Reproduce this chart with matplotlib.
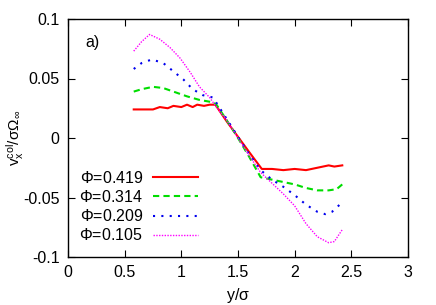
import numpy as np
import matplotlib
matplotlib.use("Agg")
import matplotlib.pyplot as plt

plt.rcParams["font.family"] = ["Liberation Sans", "DejaVu Sans"]
plt.rcParams["mathtext.fontset"] = "custom"
plt.rcParams["mathtext.rm"] = "Liberation Sans"
plt.rcParams["mathtext.it"] = "Liberation Sans"
plt.rcParams["mathtext.sf"] = "Liberation Sans"

# Data
x_419 = [0.58, 0.66, 0.75, 0.81, 0.88, 0.93, 1.00, 1.05, 1.10, 1.14, 1.20, 1.25, 1.30,
         1.40, 1.50, 1.60, 1.71, 1.80, 1.90, 2.00, 2.10, 2.20, 2.30, 2.35, 2.42]
v_419 = [0.024, 0.024, 0.024, 0.026, 0.025, 0.027, 0.026, 0.028, 0.026, 0.028, 0.027, 0.028, 0.028,
         0.014, 0.001, -0.012, -0.026, -0.026, -0.027, -0.026, -0.027, -0.025, -0.023, -0.024, -0.023]

x_314 = [0.58, 0.65, 0.75, 0.84, 0.93, 1.05, 1.16, 1.28, 1.31,
         1.40, 1.50, 1.60, 1.70, 1.75, 1.80, 1.90, 2.00, 2.10, 2.20, 2.30, 2.37, 2.42]
v_314 = [0.039, 0.041, 0.043, 0.042, 0.039, 0.035, 0.032, 0.030, 0.028,
         0.015, 0.000, -0.016, -0.033, -0.034, -0.035, -0.037, -0.039, -0.042, -0.044, -0.044, -0.043, -0.039]

x_209 = [0.58, 0.65, 0.74, 0.84, 0.93, 1.02, 1.10, 1.19, 1.28, 1.32,
         1.40, 1.50, 1.60, 1.70, 1.80, 1.90, 2.00, 2.10, 2.20, 2.27, 2.33, 2.42]
v_209 = [0.058, 0.063, 0.066, 0.063, 0.056, 0.049, 0.041, 0.036, 0.034, 0.028,
         0.016, 0.001, -0.014, -0.027, -0.035, -0.041, -0.048, -0.056, -0.062, -0.064, -0.062, -0.054]

x_105 = [0.58, 0.65, 0.72, 0.81, 0.90, 0.99, 1.08, 1.16, 1.25, 1.31,
         1.40, 1.50, 1.60, 1.70, 1.80, 1.90, 2.00, 2.10, 2.20, 2.30, 2.35, 2.42]
v_105 = [0.073, 0.081, 0.087, 0.083, 0.076, 0.067, 0.055, 0.043, 0.034, 0.026,
         0.015, 0.000, -0.015, -0.029, -0.038, -0.047, -0.057, -0.072, -0.083, -0.088, -0.087, -0.077]

labels = [r"$\Phi$=0.419", r"$\Phi$=0.314", r"$\Phi$=0.209", r"$\Phi$=0.105"]

fig = plt.figure(figsize=(4.36, 3.05), dpi=100)
ax = fig.add_axes([68 / 436, 1 - 257 / 305, 340 / 436, 238 / 305])

ax.plot(x_419, v_419, color="#ff0000", lw=1.5, ls="-", label=labels[0])
ax.plot(x_314, v_314, color="#00dd00", lw=1.5, ls=(0, (3, 2)), label=labels[1])
ax.plot(x_209, v_209, color="#0000ee", lw=1.5, ls=(0, (1, 3)), label=labels[2])
ax.plot(x_105, v_105, color="#ff00ff", lw=1.0, ls=(0, (1, 1)), label=labels[3])

ax.set_xlim(0, 3)
ax.set_ylim(-0.1, 0.1)
ax.set_xticks([0, 0.5, 1, 1.5, 2, 2.5, 3])
ax.set_xticklabels(["0", "0.5", "1", "1.5", "2", "2.5", "3"])
ax.set_yticks([-0.1, -0.05, 0, 0.05, 0.1])
ax.set_yticklabels(["-0.1", "-0.05", "0", "0.05", "0.1"])
ax.tick_params(direction="in", top=True, right=True, length=5, labelsize=11.5, pad=6)
for s in ax.spines.values():
    s.set_linewidth(1.0)

ax.set_xlabel(r"y/$\sigma$", fontsize=11.5, labelpad=4)
ax.set_ylabel(r"v$_x^{col}$/$\sigma\Omega_\infty$", fontsize=11, labelpad=-2)
ax.text(0.15, 0.08, "a)", fontsize=11.5, va="center")

ax.legend(loc="lower left", bbox_to_anchor=(0.0, 0.01), frameon=False, markerfirst=False,
          fontsize=11.5, handlelength=2.8, labelspacing=0.2, borderpad=0.2, handletextpad=0.65)

fig.savefig("out.png", dpi=100)
